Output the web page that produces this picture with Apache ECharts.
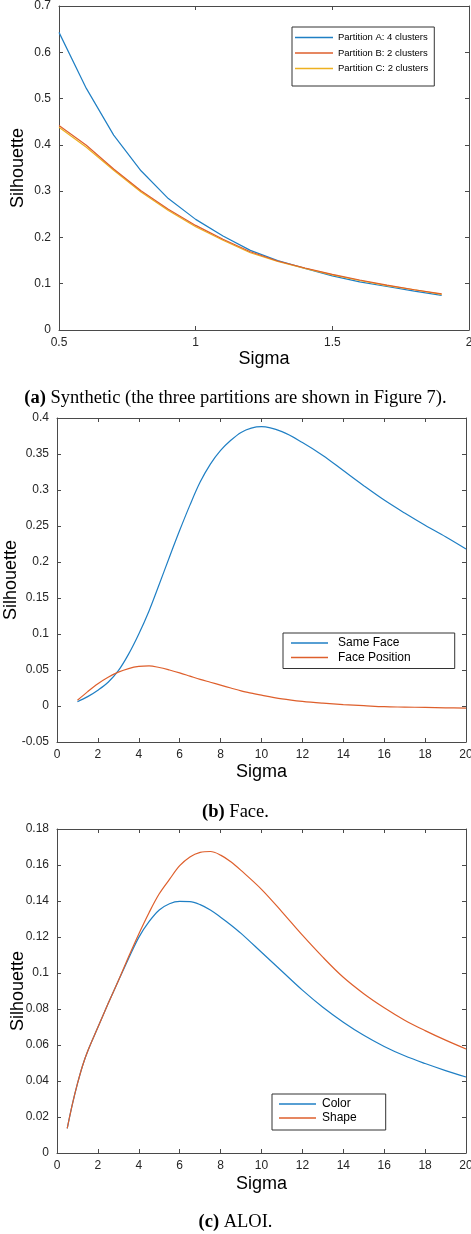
<!DOCTYPE html>
<html>
<head>
<meta charset="utf-8">
<script src="https://cdn.jsdelivr.net/npm/echarts@6/dist/echarts.min.js"></script>
<style>
  html, body { margin: 0; padding: 0; background: #fff; }
  #chart { width: 471px; height: 1234px; }
</style>
</head>
<body>
<div id="chart"></div>
<script>
// (a) Synthetic
const sigmaSynth = [0.5, 0.6, 0.7, 0.8, 0.9, 1.0, 1.1, 1.2, 1.3, 1.4, 1.5, 1.6, 1.7, 1.8, 1.9];
const partitionA = [0.643, 0.522, 0.421, 0.344, 0.284, 0.239, 0.203, 0.172, 0.150, 0.133, 0.117, 0.104, 0.094, 0.084, 0.075];
const partitionB = [0.442, 0.399, 0.348, 0.301, 0.261, 0.226, 0.196, 0.169, 0.149, 0.134, 0.120, 0.108, 0.097, 0.087, 0.078];
const partitionC = [0.438, 0.395, 0.345, 0.298, 0.258, 0.223, 0.194, 0.167, 0.148, 0.133, 0.119, 0.107, 0.096, 0.087, 0.077];

// (b) Face
const sigmaFace = [1, 1.5, 2, 2.5, 3, 3.5, 4, 4.5, 5, 5.5, 6, 6.5, 7, 7.5, 8, 8.5, 9, 9.5, 10, 11, 12, 13, 14, 15, 16, 17, 18, 19, 20];
const sameFace = [0.006, 0.013, 0.022, 0.033, 0.049, 0.072, 0.100, 0.132, 0.169, 0.207, 0.244, 0.279, 0.311, 0.336, 0.355, 0.369, 0.380, 0.386, 0.388, 0.381, 0.366, 0.348, 0.327, 0.306, 0.286, 0.268, 0.251, 0.235, 0.218];
const facePosition = [0.008, 0.020, 0.031, 0.040, 0.047, 0.052, 0.055, 0.0558, 0.0535, 0.050, 0.046, 0.0415, 0.037, 0.033, 0.029, 0.025, 0.021, 0.018, 0.015, 0.010, 0.0065, 0.004, 0.002, 0.0005, -0.001, -0.0015, -0.002, -0.0025, -0.003];

// (c) ALOI
const sigmaAloi = [0.5, 0.75, 1, 1.25, 1.5, 2, 2.5, 3, 3.5, 4, 4.5, 5, 5.5, 6, 6.5, 7, 7.5, 8, 8.5, 9, 10, 11, 12, 13, 14, 15, 16, 17, 18, 19, 20];
const colorSil = [0.0137, 0.027, 0.0385, 0.0485, 0.0565, 0.0698, 0.083, 0.0957, 0.108, 0.1198, 0.1285, 0.135, 0.1385, 0.1398, 0.1397, 0.138, 0.135, 0.131, 0.1267, 0.122, 0.1115, 0.1010, 0.0905, 0.0810, 0.0727, 0.0654, 0.0592, 0.0540, 0.0497, 0.0458, 0.0422];
const shapeSil = [0.0137, 0.027, 0.0385, 0.0485, 0.0565, 0.0698, 0.083, 0.0957, 0.109, 0.1217, 0.1335, 0.144, 0.152, 0.1596, 0.1645, 0.167, 0.1675, 0.1655, 0.1618, 0.157, 0.1465, 0.1340, 0.1210, 0.1088, 0.0976, 0.0885, 0.0807, 0.0738, 0.0680, 0.0627, 0.0578];

const BLUE = '#1f7fc4';
const ORANGE = '#de5f2c';
const YELLOW = '#edb120';
const AXIS = '#4a4a4a';
const LABEL = '#262626';
const SANS = 'Liberation Sans';
const SERIF = 'Liberation Serif';

const zip = (xs, ys) => xs.map((x, i) => [x, ys[i]]);

// bottom/left axis with labels, top/right mirror with inside ticks only (MATLAB box)
function axisPair(kind, grid, min, max, interval, nameGap) {
  const common = {
    type: 'value', gridIndex: grid, min: min, max: max, interval: interval,
    splitLine: { show: false },
    axisLine: { show: true, onZero: false, lineStyle: { color: AXIS, width: 1 } },
    axisTick: { show: true, inside: true, length: 4, lineStyle: { color: AXIS } }
  };
  const isX = kind === 'x';
  return [
    Object.assign({}, common, {
      position: isX ? 'bottom' : 'left',
      name: isX ? 'Sigma' : 'Silhouette', nameLocation: 'middle', nameGap: nameGap,
      nameMoveOverlap: false,
      nameTextStyle: { fontFamily: SANS, fontSize: 18, color: '#000' },
      axisLabel: { fontFamily: SANS, fontSize: 12, color: LABEL, margin: isX ? 7 : 8 }
    }),
    Object.assign({}, common, { position: isX ? 'top' : 'right', axisLabel: { show: false } })
  ];
}

function line(name, axis, xs, ys, color, smooth, z) {
  return {
    name: name, type: 'line', xAxisIndex: axis, yAxisIndex: axis,
    data: zip(xs, ys), smooth: smooth, symbol: 'none', z: z || 2,
    lineStyle: { color: color, width: 1.2 }, itemStyle: { color: color }
  };
}

function caption(tag, text, top) {
  return {
    text: '{b|' + tag + '} ' + text, left: 'center', top: top, padding: 0,
    textStyle: {
      fontFamily: SERIF, fontSize: 18.5, fontWeight: 'normal', color: '#000', lineHeight: 20,
      rich: { b: { fontFamily: SERIF, fontSize: 18.5, fontWeight: 'bold', color: '#000', lineHeight: 20 } }
    }
  };
}

const legendBase = {
  orient: 'vertical', icon: 'rect', itemHeight: 1.5,
  backgroundColor: '#fff', borderColor: '#333', borderWidth: 1, borderRadius: 0
};

const chart = echarts.init(document.getElementById('chart'));
chart.setOption({
  animation: false,
  backgroundColor: '#fff',
  title: [
    caption('(a)', 'Synthetic (the three partitions are shown in Figure 7).', 388),
    caption('(b)', 'Face.', 802),
    caption('(c)', 'ALOI.', 1212)
  ],
  grid: [
    { left: 59, top: 6, width: 410, height: 324, outerBoundsMode: 'none' },
    { left: 57, top: 418, width: 409, height: 324, outerBoundsMode: 'none' },
    { left: 57, top: 829, width: 409, height: 324, outerBoundsMode: 'none' }
  ],
  xAxis: [].concat(
    axisPair('x', 0, 0.5, 2, 0.5, 20),
    axisPair('x', 1, 0, 20, 2, 21),
    axisPair('x', 2, 0, 20, 2, 22)
  ),
  yAxis: [].concat(
    axisPair('y', 0, 0, 0.7, 0.1, 32),
    axisPair('y', 1, -0.05, 0.4, 0.05, 37),
    axisPair('y', 2, 0, 0.18, 0.02, 30)
  ),
  legend: [
    Object.assign({}, legendBase, {
      data: ['Partition A: 4 clusters', 'Partition B: 2 clusters', 'Partition C: 2 clusters'],
      left: 292, top: 27, itemWidth: 38, itemGap: 2.5, padding: [4, 6, 11, 3],
      textStyle: { fontFamily: SANS, fontSize: 9.5, color: '#000', lineHeight: 13 }
    }),
    Object.assign({}, legendBase, {
      data: ['Same Face', 'Face Position'],
      left: 283, top: 633, itemWidth: 37, itemGap: 0.5, padding: [3, 44, 4, 8],
      textStyle: { fontFamily: SANS, fontSize: 12, color: '#000', lineHeight: 14, padding: [0, 0, 0, 5] }
    }),
    Object.assign({}, legendBase, {
      data: ['Color', 'Shape'],
      left: 272, top: 1094, itemWidth: 37, itemGap: 0, padding: [3, 29, 5, 7],
      textStyle: { fontFamily: SANS, fontSize: 12, color: '#000', lineHeight: 14, padding: [0, 0, 0, 1] }
    })
  ],
  series: [
    line('Partition A: 4 clusters', 0, sigmaSynth, partitionA, BLUE, false),
    line('Partition C: 2 clusters', 0, sigmaSynth, partitionC, YELLOW, false, 2),
    line('Partition B: 2 clusters', 0, sigmaSynth, partitionB, ORANGE, false, 3),
    line('Same Face', 2, sigmaFace, sameFace, BLUE, 0.35),
    line('Face Position', 2, sigmaFace, facePosition, ORANGE, 0.35),
    line('Color', 4, sigmaAloi, colorSil, BLUE, 0.35),
    line('Shape', 4, sigmaAloi, shapeSil, ORANGE, 0.35)
  ]
});
</script>
</body>
</html>
